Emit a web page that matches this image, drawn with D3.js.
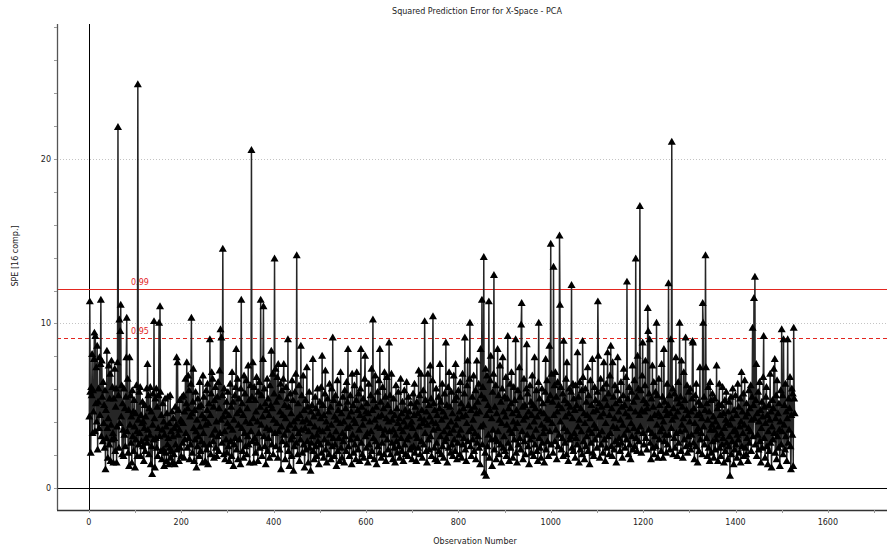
<!DOCTYPE html>
<html><head><meta charset="utf-8">
<script src="https://cdn.jsdelivr.net/npm/d3@7"></script>
<style>
body{margin:0;background:#fff}
svg{display:block}
text{font-family:"DejaVu Sans",Verdana,sans-serif;fill:#222}
</style>
</head><body>
<svg id="chart" width="888" height="550"></svg>
<script>
// Chart texts
const chartTitle = "Squared Prediction Error for X-Space - PCA";
const xAxisTitle = "Observation Number";
const yAxisTitle = "SPE [16 comp.]";

// Axis ticks (labelled ones listed separately)
const xTicks = [0,100,200,300,400,500,600,700,800,900,1000,1100,1200,1300,1400,1500,1600,1700];
const xTickLabels = [0,200,400,600,800,1000,1200,1400,1600];
const yTicks = [0,2,4,6,8,10,12,14,16,18,20,22,24,26,28];
const yTickLabels = [0,10,20];
const yGrid = [10,20];

// Confidence limits
const limitLabels = ["0.99","0.95"];
const limitValues = [12.1, 9.1];

// SPE per observation (observation number = position + 1)
const speValues = [
4.3,11.3,5.8,2.1,6.1,5.6,8.1,3.3,5.9,4.6,7.8,9.4,3.4,9.2,5.1,7.3,4.0,8.6,2.3,5.2,6.0,3.6,7.9,4.4,7.5,11.4,3.1,7.7,5.5,2.8,6.4,3.9,5.0,2.4,5.9,1.1,4.7,3.0,8.3,3.6,1.8,4.2,7.4,2.6,5.4,6.9,1.6,3.8,7.7,2.9,
6.1,3.3,1.5,5.4,3.0,7.2,2.2,4.9,6.0,1.5,3.7,7.6,21.9,5.6,2.4,10.2,3.9,9.5,11.1,4.3,6.2,2.0,5.1,3.5,1.9,6.0,3.2,4.8,2.5,5.5,7.9,10.3,3.4,6.6,2.1,4.7,1.3,7.9,3.8,5.6,2.7,4.3,1.5,5.9,3.1,4.6,2.2,5.3,3.7,1.2,
4.5,2.9,6.2,3.4,1.9,24.5,4.1,2.6,5.8,3.3,6.1,1.9,4.4,2.8,3.9,5.2,2.5,4.0,1.6,3.6,5.0,2.2,4.3,3.0,6.0,2.7,7.5,3.5,5.6,2.0,4.8,3.2,6.1,1.4,4.6,2.5,0.8,3.8,5.7,2.9,10.1,4.2,1.2,5.4,3.0,6.0,2.4,4.9,1.9,3.6,
5.6,10.0,3.1,11.0,5.8,2.2,4.4,1.7,3.5,5.1,2.3,4.0,1.3,3.2,5.4,2.1,3.7,1.6,4.5,2.6,5.5,3.0,1.4,3.9,2.4,5.6,1.8,3.4,2.2,4.6,1.5,3.1,4.2,2.0,3.6,1.4,4.9,2.6,3.8,7.9,2.3,7.6,3.2,4.7,1.6,3.5,5.3,2.4,4.1,1.9,
4.0,5.5,2.7,3.9,5.6,1.8,4.6,2.9,6.6,3.3,5.1,7.6,2.4,4.8,6.8,3.0,5.9,1.7,4.3,2.6,6.3,10.3,4.5,2.1,5.2,7.2,3.6,1.6,4.7,2.9,5.8,3.4,1.2,4.1,2.5,5.4,3.1,4.9,1.9,6.4,3.7,2.2,5.0,2.8,4.4,1.5,6.8,3.3,5.5,2.6,
4.2,1.6,3.8,5.9,2.3,4.7,6.3,1.4,3.9,5.1,2.6,9.0,4.4,2.0,5.7,7.0,3.2,6.6,2.8,4.9,1.8,5.3,3.5,6.1,2.4,4.0,1.9,5.5,3.1,6.4,2.2,4.8,7.1,3.3,9.6,4.1,9.1,2.7,5.6,14.5,4.3,2.0,6.0,3.4,1.7,4.6,2.9,5.2,2.1,3.9,
5.8,2.5,4.4,1.6,3.7,6.3,2.8,4.9,1.9,7.0,3.5,5.2,1.3,4.1,2.6,5.6,3.0,6.1,8.4,2.3,4.5,6.6,1.7,3.8,5.4,2.9,4.7,1.4,6.0,11.4,3.6,5.1,2.2,4.4,1.8,6.8,3.3,5.7,2.5,4.0,6.5,2.0,4.8,3.1,7.4,2.6,5.3,1.5,3.9,6.2,
3.4,20.5,5.5,2.8,7.6,4.2,1.5,6.1,3.0,5.3,2.1,4.6,6.7,2.7,4.0,1.6,5.8,3.3,6.4,2.4,4.9,11.4,3.8,5.6,1.9,4.3,7.8,11.0,3.1,6.0,2.5,5.1,1.4,4.7,3.6,6.6,2.2,5.4,3.0,4.4,1.8,6.2,3.5,5.0,8.3,2.6,4.8,6.9,2.0,4.1,
5.7,13.9,3.3,7.2,2.5,5.2,3.9,6.7,1.8,7.5,3.4,5.5,2.3,4.6,6.3,1.1,3.7,5.9,2.8,4.4,6.6,7.5,3.2,5.0,1.7,4.2,6.1,2.6,5.4,3.5,9.0,2.2,4.9,1.3,3.8,5.7,2.9,4.5,1.9,6.5,3.1,5.3,1.0,4.0,2.5,5.8,3.6,6.9,2.7,14.1,
4.2,2.0,5.1,3.3,6.2,1.6,4.4,2.9,8.6,3.5,5.6,2.1,4.0,6.8,2.6,4.7,1.2,3.6,5.3,2.3,4.1,7.3,2.8,4.9,1.5,3.4,5.8,2.4,3.9,1.0,4.6,2.7,5.0,3.1,7.8,2.2,4.3,1.7,3.7,5.5,2.5,4.8,1.9,3.2,6.0,2.8,4.5,1.4,3.5,5.2,
2.6,4.2,6.1,2.1,8.0,3.4,5.0,1.8,4.4,2.9,5.7,7.1,2.3,4.0,1.5,3.6,5.4,2.7,4.6,2.0,6.3,3.2,4.9,1.7,3.8,6.0,2.5,9.1,3.0,5.3,1.9,4.3,2.6,5.6,3.4,1.3,4.1,6.5,2.2,4.7,3.0,5.1,1.6,3.9,7.0,2.4,4.5,1.8,3.3,5.5,
2.8,4.0,1.5,5.9,3.1,4.8,2.2,6.4,3.6,5.2,8.4,2.5,4.3,1.9,3.7,5.6,2.9,4.6,1.4,6.9,3.2,5.0,2.1,4.1,6.2,2.6,3.9,1.7,5.3,7.0,3.0,4.7,2.3,5.7,3.5,1.6,4.4,6.0,8.4,2.7,4.9,2.0,3.8,5.4,1.8,4.2,6.6,8.0,3.1,4.6,
2.4,5.1,3.3,1.5,4.5,6.3,2.6,4.0,1.9,5.6,3.4,7.2,2.2,4.7,10.2,3.0,5.3,1.7,4.1,6.8,2.8,4.9,1.4,3.7,5.8,2.5,4.3,6.5,2.1,8.4,3.6,5.2,1.8,4.4,2.7,6.1,3.2,4.8,2.0,7.0,3.5,5.5,1.6,4.2,6.7,2.9,5.0,2.3,4.0,8.8,
3.4,5.6,2.0,4.6,6.9,2.7,4.1,1.7,3.5,5.4,2.4,4.4,1.5,3.2,6.2,2.8,4.8,2.1,3.9,5.8,2.5,4.2,1.8,3.6,6.6,3.0,4.5,2.2,5.2,3.4,1.6,4.0,5.9,2.6,4.7,2.0,3.7,6.4,2.9,4.3,1.9,5.5,3.1,4.6,2.3,3.8,5.1,2.4,4.0,1.7,
3.6,5.7,2.5,4.4,6.3,2.1,4.9,3.2,1.6,5.2,3.0,4.5,2.4,7.1,3.7,5.6,2.0,4.2,6.9,2.8,4.7,1.8,3.9,5.9,2.6,4.1,10.1,3.3,5.3,2.2,4.6,1.5,3.8,6.9,2.9,5.0,2.3,4.3,7.4,3.1,5.4,1.9,4.0,6.5,10.4,3.5,5.1,2.4,4.7,1.7,
3.9,6.0,2.7,4.4,1.6,3.6,5.5,2.2,4.8,7.5,3.1,5.2,2.0,4.1,6.3,2.5,4.6,1.8,3.4,5.7,2.8,4.3,8.8,3.0,5.0,1.5,3.7,6.1,2.4,7.0,3.3,4.9,2.1,4.0,5.8,2.6,4.5,1.9,3.5,6.8,2.9,5.3,2.2,7.5,3.8,5.5,1.7,4.2,2.7,5.9,
3.2,4.6,2.0,6.4,3.5,5.1,1.8,4.3,6.9,2.6,4.8,3.0,5.7,9.1,2.3,4.4,1.6,3.9,6.2,7.7,2.8,5.0,3.4,6.6,10.0,2.5,4.7,1.9,3.6,5.5,2.9,4.1,6.8,2.2,4.9,3.3,5.9,1.7,4.5,7.7,2.7,5.2,3.1,6.3,2.4,4.6,1.4,8.4,3.7,5.6,
11.4,2.6,6.1,3.8,14.0,0.9,5.4,2.1,7.2,0.7,4.4,6.8,2.5,5.0,3.2,11.3,1.8,4.7,6.5,8.0,2.9,4.2,1.3,5.8,3.5,6.9,12.9,2.3,4.9,3.0,6.2,1.7,4.5,2.8,8.4,3.4,5.6,2.0,4.1,7.4,2.6,5.2,1.5,3.9,6.0,7.9,2.4,4.6,3.1,5.5,
2.2,4.3,6.7,1.9,3.8,5.4,9.2,2.7,4.8,1.6,3.5,6.3,2.4,5.1,7.0,3.3,4.5,1.8,4.0,6.1,2.9,5.3,3.6,9.0,2.1,4.7,1.5,3.9,5.9,2.6,4.4,7.3,3.0,5.5,2.3,9.9,11.2,3.4,4.9,1.7,4.1,6.6,2.8,5.0,2.0,4.3,6.0,8.7,3.2,5.7,
2.5,4.6,1.4,3.7,6.2,2.9,5.2,2.1,4.4,6.8,3.1,5.0,1.9,4.0,7.9,2.6,4.8,3.5,5.9,2.2,4.3,1.6,6.4,10.0,3.0,5.4,2.4,4.6,1.8,3.8,6.0,2.7,5.1,3.3,4.5,1.5,3.6,5.8,7.8,2.3,4.2,6.5,2.8,5.3,1.9,4.1,8.6,3.4,5.6,14.8,
2.6,6.9,3.9,5.2,2.1,13.4,4.4,6.2,2.8,7.0,3.5,5.5,1.7,4.6,6.4,2.5,5.0,3.2,15.3,11.1,4.0,6.1,2.3,4.8,3.0,5.7,1.9,8.9,3.6,5.3,2.7,4.3,6.6,2.0,7.6,3.4,5.1,1.6,4.5,6.0,2.9,4.9,3.1,5.8,12.3,2.4,4.2,6.3,2.2,5.4,
3.3,4.7,1.8,6.2,3.0,5.0,2.6,8.2,3.7,5.5,1.5,4.1,6.4,2.3,4.8,3.4,5.9,2.0,8.9,6.7,2.8,4.5,1.7,3.9,6.0,2.5,5.2,3.1,4.4,7.3,2.2,5.6,3.5,1.4,4.2,6.5,2.7,5.0,3.3,7.8,2.1,4.6,1.9,3.8,6.1,2.9,5.3,3.6,4.7,2.4,
5.8,11.3,8.0,3.2,5.1,1.8,4.3,6.6,2.6,4.9,3.4,6.0,2.1,4.5,7.6,2.9,5.4,1.6,3.9,6.3,2.4,5.0,8.2,3.1,5.7,2.0,4.4,6.8,3.3,8.6,2.5,4.8,1.9,7.6,3.7,5.5,2.3,4.2,6.2,2.8,5.1,1.5,3.6,5.9,7.9,2.6,4.6,3.0,5.3,2.2,
4.1,6.4,2.7,4.9,1.8,3.8,5.6,7.2,3.2,5.0,2.4,4.5,6.7,2.9,12.5,3.5,5.4,2.0,4.3,6.1,2.6,4.8,1.7,3.9,5.8,3.1,7.4,2.3,5.2,3.6,6.5,2.5,4.6,13.9,3.0,5.5,2.2,8.0,3.4,6.0,2.8,4.4,17.1,3.7,5.9,2.1,4.7,6.8,8.8,3.3,
5.3,2.6,4.6,6.2,7.7,3.0,5.1,2.3,4.8,10.9,9.5,3.5,5.7,9.0,2.7,4.2,1.7,5.4,3.3,7.4,2.4,4.9,6.4,2.0,4.4,3.1,5.8,2.5,10.0,3.8,5.6,1.8,4.5,6.6,2.9,5.0,3.4,4.3,2.2,7.5,3.6,5.5,1.8,4.0,8.4,2.8,5.2,3.2,4.7,2.1,
4.4,6.3,2.6,5.0,12.4,3.2,5.6,2.3,4.5,9.0,3.6,21.0,4.1,6.0,2.0,4.8,3.0,5.7,2.4,4.3,7.9,3.3,5.4,1.9,4.6,6.4,2.7,5.1,10.0,3.4,5.5,2.2,7.7,3.8,4.9,1.8,4.2,7.0,2.9,5.3,3.5,9.1,2.5,4.7,6.2,2.1,4.4,3.1,5.8,2.6,
4.0,6.0,2.3,4.6,3.2,5.4,8.9,8.8,2.7,4.8,1.7,3.9,5.6,2.5,6.3,3.4,4.4,1.5,3.6,5.2,2.2,4.5,7.3,2.9,5.0,3.3,4.2,2.0,11.2,10.0,3.7,5.5,2.6,4.7,14.1,7.3,3.0,5.1,1.9,4.1,6.1,2.4,4.6,1.6,6.4,3.5,5.3,2.1,3.8,5.7,
2.8,4.3,1.8,3.5,5.4,2.3,4.0,2.9,7.4,3.2,4.8,1.6,3.7,5.1,6.3,2.4,4.4,1.9,3.3,5.0,2.6,6.1,3.0,4.5,1.5,3.6,5.3,2.2,4.1,5.8,2.7,3.9,1.7,4.6,2.5,5.2,3.1,0.7,3.8,5.5,2.0,4.2,2.8,6.0,3.4,1.4,4.7,2.3,3.5,5.6,
2.6,4.4,1.8,3.2,6.3,2.9,4.9,2.1,3.7,5.4,1.5,4.0,7.0,2.5,4.6,3.3,5.7,1.9,3.8,6.5,2.4,4.3,2.0,5.1,3.0,4.5,1.6,3.6,5.9,2.7,4.8,3.4,6.2,2.2,4.1,5.5,9.7,3.1,5.0,11.5,4.2,12.8,2.6,5.3,7.5,1.9,4.5,3.2,5.8,2.3,
4.0,6.4,2.8,4.7,1.5,3.6,5.2,2.4,4.3,6.7,9.2,3.0,4.9,1.8,3.9,5.5,6.1,2.5,4.4,1.4,3.4,5.0,2.2,4.1,6.9,2.7,4.6,1.2,3.7,5.3,2.9,4.8,7.2,3.3,7.8,2.1,4.2,5.6,1.7,6.5,3.1,4.5,2.4,5.1,3.5,1.3,4.0,5.9,2.6,9.6,
3.4,5.6,2.0,9.0,3.8,5.0,2.3,6.3,3.1,4.6,1.6,4.2,9.0,2.7,5.4,3.5,4.8,6.7,2.5,1.1,4.4,6.0,3.2,5.7,1.3,9.7,5.4,4.5
];

const W = 888, H = 550;
const plot = {left: 57, right: 887, top: 24, bottom: 510};

const svg = d3.select("#chart");
svg.append("rect").attr("width", W).attr("height", H).attr("fill", "#fff");

const x = d3.scaleLinear().domain([-69, 1728]).range([plot.left, plot.right]);
const y = d3.scaleLinear().domain([-1.34, 28.2]).range([plot.bottom, plot.top]);

svg.append("defs").append("clipPath").attr("id", "plotClip")
  .append("rect")
  .attr("x", plot.left).attr("y", plot.top)
  .attr("width", plot.right - plot.left).attr("height", plot.bottom - plot.top);

// Dotted gridlines on major y ticks
svg.append("g").selectAll("line").data(yGrid).join("line")
  .attr("x1", plot.left).attr("x2", plot.right)
  .attr("y1", d => Math.round(y(d)) + 0.5).attr("y2", d => Math.round(y(d)) + 0.5)
  .attr("stroke", "#c4c4c4").attr("stroke-dasharray", "1,2");

// Zero reference lines
svg.append("line")
  .attr("x1", plot.left).attr("x2", plot.right)
  .attr("y1", Math.round(y(0)) + 0.5).attr("y2", Math.round(y(0)) + 0.5)
  .attr("stroke", "#000");
svg.append("line")
  .attr("x1", Math.round(x(0)) + 0.5).attr("x2", Math.round(x(0)) + 0.5)
  .attr("y1", plot.top).attr("y2", plot.bottom)
  .attr("stroke", "#000");

// Confidence limits
const limitG = svg.append("g");
limitValues.forEach((v, i) => {
  const yy = Math.round(y(v)) + 0.5;
  limitG.append("line")
    .attr("x1", plot.left).attr("x2", plot.right)
    .attr("y1", yy).attr("y2", yy)
    .attr("stroke", "#e3261f").attr("stroke-width", 1)
    .attr("stroke-dasharray", i === 0 ? null : "4,3");
  limitG.append("text")
    .attr("x", 131).attr("y", yy - 5)
    .attr("font-size", 8).style("fill", "#e3261f")
    .text(limitLabels[i]);
});

// Series: connecting line and triangle markers
const dataG = svg.append("g").attr("clip-path", "url(#plotClip)");
const line = d3.line().x((d, i) => x(i + 1)).y(d => y(d));
dataG.append("path").datum(speValues)
  .attr("d", line)
  .attr("fill", "none").attr("stroke", "#262626").attr("stroke-width", 1.5);

const tri = d3.symbol().type(d3.symbolTriangle).size(28);
dataG.append("g").selectAll("path").data(speValues).join("path")
  .attr("d", tri)
  .attr("transform", (d, i) => `translate(${x(i + 1)},${y(d)})`)
  .attr("fill", "#000");

// Axes
const axisG = svg.append("g");
axisG.append("line")
  .attr("x1", plot.left + 0.5).attr("x2", plot.left + 0.5)
  .attr("y1", plot.top).attr("y2", plot.bottom)
  .attr("stroke", "#555").attr("stroke-width", 1.3);
axisG.append("line")
  .attr("x1", plot.left).attr("x2", plot.right)
  .attr("y1", plot.bottom + 0.5).attr("y2", plot.bottom + 0.5)
  .attr("stroke", "#333").attr("stroke-width", 1.3);

axisG.selectAll(".yt").data(yTicks).join("line").attr("class", "yt")
  .attr("x1", plot.left - 3).attr("x2", plot.left)
  .attr("y1", d => Math.round(y(d)) + 0.5).attr("y2", d => Math.round(y(d)) + 0.5)
  .attr("stroke", "#999");
axisG.selectAll(".xt").data(xTicks).join("line").attr("class", "xt")
  .attr("x1", d => Math.round(x(d)) + 0.5).attr("x2", d => Math.round(x(d)) + 0.5)
  .attr("y1", plot.bottom).attr("y2", plot.bottom + 3)
  .attr("stroke", "#999");

axisG.selectAll(".yl").data(yTickLabels).join("text").attr("class", "yl")
  .attr("x", plot.left - 6).attr("y", d => y(d) + 3)
  .attr("text-anchor", "end").attr("font-size", 8)
  .text(d => d);
axisG.selectAll(".xl").data(xTickLabels).join("text").attr("class", "xl")
  .attr("x", d => x(d)).attr("y", plot.bottom + 15)
  .attr("text-anchor", "middle").attr("font-size", 8)
  .text(d => d);

svg.append("text")
  .attr("x", 477).attr("y", 14)
  .attr("text-anchor", "middle").attr("font-size", 8)
  .text(chartTitle);
svg.append("text")
  .attr("x", 475).attr("y", 544)
  .attr("text-anchor", "middle").attr("font-size", 8)
  .text(xAxisTitle);
svg.append("text")
  .attr("transform", "translate(18,256) rotate(-90)")
  .attr("text-anchor", "middle").attr("font-size", 8)
  .text(yAxisTitle);
</script>
</body></html>
